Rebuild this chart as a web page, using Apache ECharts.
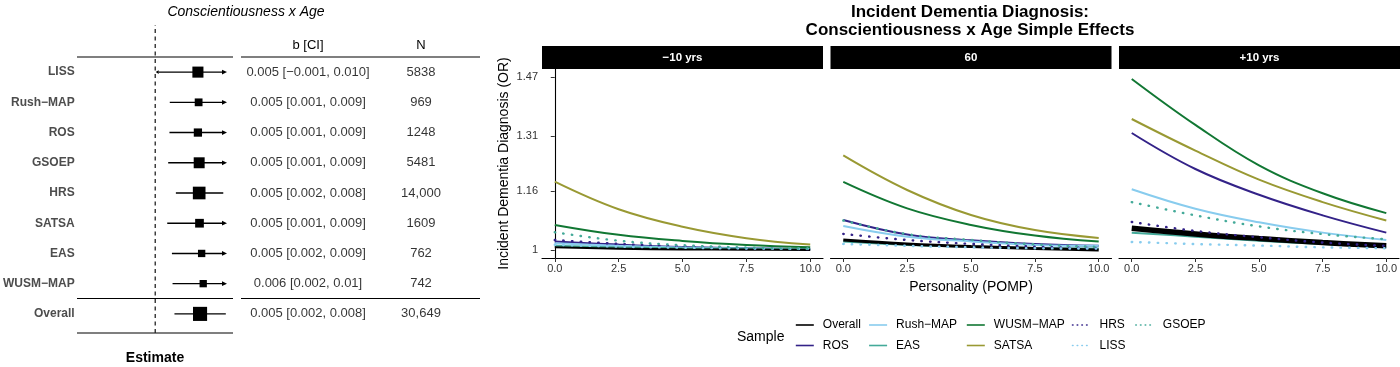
<!DOCTYPE html>
<html><head><meta charset="utf-8">
<script src="https://cdn.jsdelivr.net/npm/echarts@6/dist/echarts.min.js"></script>
<style>html,body{margin:0;padding:0;background:#fff;}#c{width:1400px;height:367px;}</style>
</head><body><div id="c"></div>
<script>
// ---------- Forest plot data ----------
const studies = ['LISS','Rush\u2212MAP','ROS','GSOEP','HRS','SATSA','EAS','WUSM\u2212MAP','Overall'];
const estimate = [0.00483,0.00492,0.00483,0.00499,0.00499,0.00503,0.0053,0.0055,0.0051];
const ciLower  = [-0.001,0.00128,0.00124,0.00108,0.00205,0.00096,0.00155,0.00163,0.00187];
const ciUpper  = [0.010,0.009,0.009,0.009,0.00803,0.009,0.009,0.010,0.00835];
const ciLabels = ['0.005 [\u22120.001, 0.010]','0.005 [0.001, 0.009]','0.005 [0.001, 0.009]','0.005 [0.001, 0.009]',
  '0.005 [0.002, 0.008]','0.005 [0.001, 0.009]','0.005 [0.002, 0.009]','0.006 [0.002, 0.01]','0.005 [0.002, 0.008]'];
const sampleN  = [5838,969,1248,5481,14000,1609,762,742,30649];
const tableHeaders = ['b [CI]','N'];

// ---------- Simple effects data ----------
const panels = ['\u221210 yrs','60','+10 yrs'];
const pomp = [0,2.5,5,7.5,10];
const xTicks = [0,2.5,5,7.5,10];
const yTicks = [1,1.16,1.31,1.47];
const yTickLabels = ['1','1.16','1.31','1.47'];
// each: [panel -10 yrs, panel 60, panel +10 yrs], values at pomp
const orOverall = [[1.0073,1.0035,1.0017,1.0007,1.000],[1.027,1.0163,1.009,1.004,1.000],[1.059,1.0435,1.031,1.020,1.011]];
const orROS     = [[1.0226,1.0145,1.008,1.0045,1.002],[1.0815,1.042,1.026,1.016,1.011],[1.318,1.22,1.15,1.094,1.047]];
const orRush    = [[1.018,1.011,1.0065,1.0038,1.002],[1.065,1.036,1.023,1.0136,1.011],[1.165,1.112,1.075,1.047,1.027]];
const orEAS     = [[1.011,1.007,1.0045,1.003,1.002],[1.0226,1.0136,1.009,1.0054,1.0036],[1.047,1.036,1.025,1.016,1.007]];
const orWUSM    = [[1.068,1.041,1.0245,1.0136,1.0073],[1.185,1.113,1.068,1.039,1.0226],[1.465,1.340,1.230,1.154,1.100]];
const orSATSA   = [[1.1856,1.1105,1.063,1.032,1.0145],[1.257,1.163,1.095,1.054,1.0326],[1.356,1.27,1.191,1.13,1.08]];
const orHRS     = [[1.027,1.0163,1.009,1.0045,1.002],[1.0435,1.027,1.0163,1.009,1.0045],[1.076,1.0516,1.0344,1.020,1.011]];
const orLISS    = [[1.014,1.009,1.006,1.004,1.003],[1.0163,1.011,1.0072,1.0045,1.0036],[1.0217,1.016,1.0118,1.007,1.0045]];
const orGSOEP   = [[1.048,1.025,1.0128,1.0063,1.0027],[1.080,1.043,1.027,1.015,1.008],[1.13,1.094,1.064,1.043,1.029]];

const samples = [
  {name:'Overall',       vals:orOverall, color:'#000000', dotted:false},
  {name:'ROS',           vals:orROS,     color:'#332288', dotted:false},
  {name:'Rush\u2212MAP', vals:orRush,    color:'#88CCEE', dotted:false},
  {name:'EAS',           vals:orEAS,     color:'#44AA99', dotted:false},
  {name:'WUSM\u2212MAP', vals:orWUSM,    color:'#117733', dotted:false},
  {name:'SATSA',         vals:orSATSA,   color:'#999933', dotted:false},
  {name:'HRS',           vals:orHRS,     color:'#332288', dotted:true},
  {name:'LISS',          vals:orLISS,    color:'#88CCEE', dotted:true},
  {name:'GSOEP',         vals:orGSOEP,   color:'#44AA99', dotted:true}
];

// ---------- layout ----------
const FONT = 'Liberation Sans';
const X_MIN = -0.0005, X_MAX = 0.0085;
const panelLeft = [542, 830.5, 1119], panelW = 281, panelTop = 69, panelH = 189;
const overallWidth = [2.2, 3, 5.5];

const chart = echarts.init(document.getElementById('c'));

const grids = [
  {left:151, top:57, width:76, height:272},     // forest
  {left:151, top:25, width:76, height:308},     // zero line
  {left:251.5, top:57, width:226, height:272},  // table
];
panelLeft.forEach(l => grids.push({left:l, top:panelTop, width:panelW, height:panelH}));

const xAxes = [
  {gridIndex:0, type:'value', min:X_MIN, max:X_MAX, show:false},
  {gridIndex:1, type:'value', min:X_MIN, max:X_MAX, show:false},
  {gridIndex:2, type:'category', data:tableHeaders, position:'top',
   axisLine:{show:false}, axisTick:{show:false},
   axisLabel:{fontSize:13, color:'#000', margin:5, fontFamily:FONT}}
];
const yAxes = [
  {gridIndex:0, type:'category', data:studies, inverse:true,
   axisLine:{show:false}, axisTick:{show:false},
   axisLabel:{fontSize:12, fontWeight:'bold', color:'#4D4D4D', margin:81, fontFamily:FONT}},
  {gridIndex:1, type:'value', min:0, max:1, show:false},
  {gridIndex:2, type:'category', data:studies, inverse:true, show:false}
];
panelLeft.forEach((l,k) => {
  xAxes.push({gridIndex:3+k, type:'value', min:-0.5, max:10.5,
    axisLine:{show:true, lineStyle:{color:'#000', width:1.1}},
    axisTick:{show:true, customValues:xTicks, length:4, lineStyle:{color:'#333'}},
    axisLabel:{customValues:xTicks, formatter:v=>v.toFixed(1), fontSize:11, color:'#333', margin:5, fontFamily:FONT},
    splitLine:{show:false},
    name: k===1 ? 'Personality (POMP)' : '', nameLocation:'middle', nameGap:22,
    nameTextStyle:{fontSize:14, color:'#000', fontFamily:FONT}
  });
  yAxes.push({gridIndex:3+k, type:'value', min:0.978, max:1.492,
    axisLine:{show:k===0, lineStyle:{color:'#000', width:1.1}},
    axisTick:{show:k===0, customValues:yTicks, length:4, lineStyle:{color:'#333'}},
    axisLabel:{show:k===0, customValues:yTicks, formatter:v=>yTickLabels[yTicks.findIndex(t=>Math.abs(t-v)<1e-6)] ?? String(v),
      fontSize:11, color:'#333', margin:4, fontFamily:FONT},
    splitLine:{show:false},
    name: k===0 ? 'Incident Dementia Diagnosis (OR)' : '', nameLocation:'middle', nameGap:31,
    nameTextStyle:{fontSize:14, color:'#000', fontFamily:FONT}
  });
});

const series = [];
// forest CI + boxes
series.push({
  type:'custom', xAxisIndex:0, yAxisIndex:0, clip:false,
  encode:{x:[1,2,3], y:0},
  data: studies.map((s,i)=>[i, ciLower[i], estimate[i], ciUpper[i], sampleN[i]]),
  renderItem(params, api){
    const i = api.value(0), lo = api.value(1), est = api.value(2), hi = api.value(3), n = api.value(4);
    const p0 = api.coord([Math.max(lo, X_MIN), i]);
    const p1 = api.coord([Math.min(hi, X_MAX), i]);
    const pe = api.coord([est, i]);
    const s = 7.3 + 4.2*(Math.log10(n) - 2.87);
    const ch = [];
    const rightArrow = hi > X_MAX, leftArrow = lo < X_MIN;
    ch.push({type:'line', shape:{x1:p0[0]+(leftArrow?3:0), y1:p0[1], x2:p1[0]-(rightArrow?4:0), y2:p1[1]},
      style:{stroke:'#000', lineWidth:1.4}});
    if (rightArrow) ch.push({type:'polygon', shape:{points:[[p1[0],p1[1]],[p1[0]-5,p1[1]-2.4],[p1[0]-5,p1[1]+2.4]]}, style:{fill:'#000'}});
    if (leftArrow) ch.push({type:'polygon', shape:{points:[[p0[0],p0[1]],[p0[0]+3,p0[1]-1.8],[p0[0]+3,p0[1]+1.8]]}, style:{fill:'#000'}});
    ch.push({type:'rect', shape:{x:pe[0]-s/2, y:pe[1]-s/2, width:s, height:s}, style:{fill:'#000'}});
    return {type:'group', children:ch};
  }
});
// zero reference line
series.push({type:'line', xAxisIndex:1, yAxisIndex:1, data:[[0,0],[0,1]], symbol:'none', silent:true,
  lineStyle:{color:'#222', width:1.3, type:[4,3.5]}});
// table text
const tableData = [];
studies.forEach((s,i)=>{
  tableData.push([0, i, ciLabels[i]]);
  tableData.push([1, i, sampleN[i] >= 10000 ? sampleN[i].toLocaleString('en-US') : String(sampleN[i])]);
});
series.push({type:'scatter', xAxisIndex:2, yAxisIndex:2, data:tableData, symbolSize:1, silent:true,
  itemStyle:{color:'rgba(0,0,0,0)'},
  label:{show:true, position:'inside', formatter:p=>p.data[2], fontSize:13, color:'#000', fontFamily:FONT}});

// simple-effect curves
const order = [1,2,3,4,5,0,6,7,8];
panelLeft.forEach((l,k)=>{
  order.forEach(si=>{
    const smp = samples[si];
    const w = smp.name === 'Overall' ? overallWidth[k] : 2;
    series.push({
      type:'line', name:smp.name, xAxisIndex:3+k, yAxisIndex:3+k,
      data: pomp.map((x,j)=>[x, smp.vals[k][j]]),
      smooth:0.4, symbol:'none', silent:true,
      lineStyle: smp.dotted ? {color:smp.color, width:2.4, type:[0.5,8.2], cap:'round'} : {color:smp.color, width:w},
      itemStyle:{color:smp.color}
    });
  });
});

// legends, column-major like the reference
const legendCols = [['Overall','ROS'],['Rush\u2212MAP','EAS'],['WUSM\u2212MAP','SATSA'],['HRS','LISS'],['GSOEP']];
const legendLeft = [795, 868.3, 966, 1071.7, 1135];
const dottedSet = new Set(['HRS','LISS','GSOEP']);
const legends = legendCols.map((col,c)=>({
  orient:'vertical', left:legendLeft[c], top:319, itemWidth:18, itemHeight:14, itemGap:8.5,
  selectedMode:false, padding:0,
  itemStyle:{opacity:0},
  data: col.map(n=>({name:n, itemStyle:{opacity:0},
    lineStyle: dottedSet.has(n) ? {width:1.6, type:[0.5,4.2], cap:'round'} : {width:1.6}})),
  textStyle:{fontSize:12, color:'#000', fontFamily:FONT, padding:[0,0,0,4]}
}));

const graphics = [];
// table rules
[[57,[[77,233],[241,480]]],[298.5,[[77,233],[241,480]]],[333,[[77,233]]]].forEach(([y,segs])=>{
  segs.forEach(([a,b])=>graphics.push({type:'line', shape:{x1:a,y1:y,x2:b,y2:y}, style:{stroke:'#000', lineWidth:1.2}, silent:true}));
});
// facet strips
panels.forEach((p,k)=>{
  graphics.push({type:'rect', shape:{x:panelLeft[k], y:46, width:panelW, height:23}, style:{fill:'#000'}, silent:true});
  graphics.push({type:'text', x:panelLeft[k]+panelW/2, y:57.5, silent:true,
    style:{text:p, fill:'#fff', font:'bold 11.5px "Liberation Sans"', align:'center', verticalAlign:'middle'}});
});

chart.setOption({
  animation:false,
  textStyle:{fontFamily:FONT},
  title:[
    {text:'Conscientiousness x Age', left:241, top:0, textAlign:'center',
     textStyle:{fontSize:14, fontStyle:'italic', fontWeight:'normal', color:'#000', fontFamily:FONT}},
    {text:'Estimate', left:155, top:351, textAlign:'center', padding:0,
     textStyle:{fontSize:14, fontWeight:'bold', color:'#000', fontFamily:FONT}},
    {text:'Incident Dementia Diagnosis:\nConscientiousness x Age Simple Effects', left:970, top:3, textAlign:'center', padding:0,
     textStyle:{fontSize:17, fontWeight:'bold', color:'#000', lineHeight:18, fontFamily:FONT}},
    {text:'Sample', left:737, top:330, padding:0,
     textStyle:{fontSize:14, fontWeight:'normal', color:'#000', fontFamily:FONT}}
  ],
  legend:legends,
  grid:grids,
  xAxis:xAxes,
  yAxis:yAxes,
  series:series,
  graphic:graphics
});
</script></body></html>
